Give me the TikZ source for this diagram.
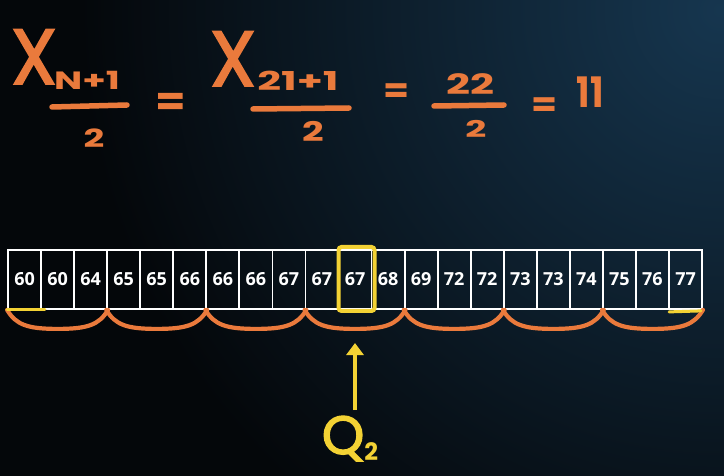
\documentclass[tikz,border=0pt]{standalone}
\usepackage{fontspec}
\usetikzlibrary{calc,arrows.meta}
\newfontfamily\hand{Poppins}
\newfontfamily\handM{Poppins}[FakeBold=2.5]
\newfontfamily\cellfont{Open Sans}
\definecolor{hOrange}{HTML}{EA7A3C}
\definecolor{hYellow}{HTML}{F3D234}
\definecolor{bgNavy}{HTML}{16364F}
\definecolor{bgDark}{HTML}{04070A}
\tikzset{
  cell/.style={draw=white, line width=1.8pt, minimum width=33.05pt, minimum height=59pt,
    inner sep=0pt},
  celltxt/.style={text=white, inner sep=0pt, anchor=base, font=\cellfont\bfseries\fontsize{18}{18}\selectfont},
  handO/.style={text=hOrange, inner sep=0pt, anchor=base},
  handY/.style={text=hYellow, inner sep=0pt, anchor=base},
  brace/.style={draw=hOrange, line width=4.2pt, line cap=round, line join=round},
  bar/.style={draw=hOrange, line width=5.5pt, line cap=round},
  ymark/.style={draw=hYellow, line width=3pt, line cap=round},
}
\begin{document}
\begin{tikzpicture}[x=1pt,y=-1pt]
\begin{scope}
\clip (0,0) rectangle (724,476);
\fill[bgDark] (0,0) rectangle (724,476);
\shade[inner color=bgNavy, outer color=bgDark] (720,10) circle (640);
\end{scope}
\useasboundingbox (0,0) rectangle (724,476);

% formula
\node[handO, font=\handM\fontsize{78}{78}\selectfont, xscale=0.95] (x1) at (34,84) {X};
\node[handO, font=\hand\bfseries\fontsize{25}{25}\selectfont, xscale=1.5] (s1) at (87,90) {N+1};
\coordinate (b1l) at (52,107); \coordinate (b1r) at (127,105);
\draw[bar] (b1l) -- (b1r);
\node[handO, font=\hand\bfseries\fontsize{25}{25}\selectfont, xscale=1.45] (d1) at (94,148) {2};
\node[handO, font=\hand\bfseries\fontsize{40}{40}\selectfont, xscale=1.1] (e1) at (171,116) {=};
\node[handO, font=\handM\fontsize{78}{78}\selectfont, xscale=0.95] (x2) at (233,86) {X};
\node[handO, font=\hand\bfseries\fontsize{26}{26}\selectfont, xscale=1.6] (s2) at (298,91) {21+1};
\coordinate (b2l) at (253,109); \coordinate (b2r) at (349,108);
\draw[bar] (b2l) -- (b2r);
\node[handO, font=\hand\bfseries\fontsize{27}{27}\selectfont, xscale=1.4] (d2) at (313,142) {2};
\node[handO, font=\hand\bfseries\fontsize{34}{34}\selectfont, xscale=1.1] (e2) at (397,103) {=};
\node[handO, font=\hand\bfseries\fontsize{28}{28}\selectfont, xscale=1.5] (n22) at (470,95) {22};
\coordinate (b3l) at (434,106); \coordinate (b3r) at (504,105);
\draw[bar] (b3l) -- (b3r);
\node[handO, font=\hand\bfseries\fontsize{23}{23}\selectfont, xscale=1.6] (d3) at (476,138) {2};
\node[handO, font=\hand\bfseries\fontsize{34}{34}\selectfont, xscale=1.1] (e3) at (545,117) {=};
\node[handO, font=\hand\bfseries\fontsize{42}{42}\selectfont, xscale=0.85] (r) at (590,108) {11};

% cells
\foreach \v [count=\i] in {60,60,64,65,65,66,66,66,67,67,67,68,69,72,72,73,73,74,75,76,77}{
  \node[cell] (c\i) at ({8+33.05*(\i-0.5)},279.5) {};
  \node[celltxt] (t\i) at ($(c\i.center)+(0,6.5)$) {\v};
}

% braces
\foreach \k in {0,...,6}{
  \pgfmathtruncatemacro{\a}{3*\k+1}
  \pgfmathtruncatemacro{\m}{3*\k+2}
  \pgfmathtruncatemacro{\b}{3*\k+3}
  \draw[brace] (c\a.south west) .. controls +(9,15) and +(-30,0) .. ($(c\m.south)+(0,19)$)
     .. controls +(30,0) and +(-9,15) .. (c\b.south east);
}

% yellow marks
\draw[ymark] (c1.south west) -- ($(c1.south east)+(3,0)$);
\draw[ymark] ($(c21.south west)+(1,2)$) -- ($(c21.south east)+(-2,1)$);

% highlight
\node[draw=hYellow, line width=4pt, rounded corners=3pt, minimum width=36pt, minimum height=64pt, inner sep=0pt] (hl) at (356.5,279) {};

% Q2
\node[handY, font=\handM\fontsize{54}{54}\selectfont] (q) at (350,454) {Q\raisebox{-0.12em}{\hand\bfseries\fontsize{24}{24}\selectfont 2}};
\coordinate (qtop) at (355,410);
\draw[draw=hYellow, line width=4pt, -{Triangle[width=17pt,length=12pt]}] (qtop) -- ($(hl.south)+(-1.5,30)$);
\end{tikzpicture}
\end{document}
